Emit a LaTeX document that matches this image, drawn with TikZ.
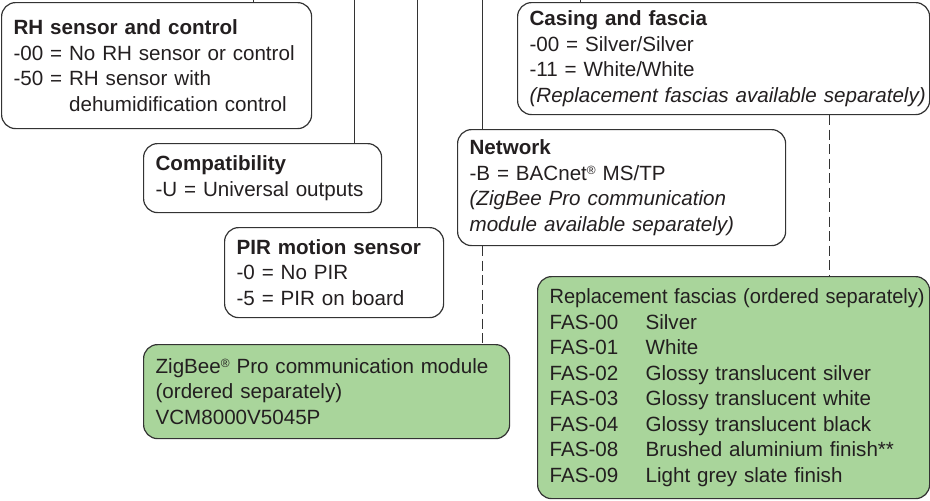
\documentclass[tikz,border=0pt]{standalone}
\usepackage{fontspec}
\setmainfont{Liberation Sans}
\usepackage[dvipsnames]{xcolor}
\definecolor{boxline}{HTML}{333333}
\definecolor{inktext}{HTML}{231F20}
\definecolor{ordergreen}{RGB}{169,213,155}
\hyphenpenalty=10000
\newcommand{\regmark}{\raisebox{0.3em}{\scalebox{0.58}{®}}}

\begin{document}
\begin{tikzpicture}[x=0.5pt,y=-0.5pt,font=\fontsize{10.3}{12.75}\selectfont,
    info node/.style={draw=boxline,line width=0.6pt,rounded corners=7pt,anchor=north west,align=left,inner xsep=6pt,inner ysep=2pt,text=inktext},
    order node/.style={info node,fill=ordergreen},
    link/.style={draw=boxline,line width=0.5pt},
    loose link/.style={link,dash pattern=on 5pt off 2.25pt}]
            \useasboundingbox (0,0) rectangle (930,500);

            % option boxes
            \node[info node,text width=143pt,minimum height=63pt] (rh) at (1,2)
                {\textbf{RH sensor and control}\\\mbox{-00 = No RH sensor or control}\\-50 = RH sensor with\\\phantom{-50 = }dehumidification control};
            \node[info node,text width=107pt,minimum height=34.5pt] (compat) at (143,143)
                {\textbf{Compatibility}\\-U = Universal outputs};
            \node[info node,text width=97.5pt,minimum height=45pt] (pir) at (224,227)
                {\textbf{PIR motion sensor}\\-0 = No PIR\\-5 = PIR on board};
            \node[info node,text width=152pt,minimum height=58pt] (net) at (457,129)
                {\textbf{Network}\\-B = BACnet\regmark{} MS/TP\\\textit{(ZigBee Pro communication}\\\textit{module available separately)}};
            \node[info node,text width=194pt,minimum height=56pt] (casing) at (517,2)
                {\textbf{Casing and fascia}\\-00 = Silver/Silver\\-11 = White/White\\\mbox{\textit{(Replacement fascias available separately)}}};

            % separately ordered parts
            \node[order node,text width=171pt,minimum height=47pt] (zig) at (143,344)
                {\mbox{ZigBee\regmark{} Pro communication module}\\(ordered separately)\\VCM8000V5045P};
            \node[order node,text width=184pt,minimum height=111pt] (repl) at (537,276)
                {\scalebox{0.972}[1]{Replacement fascias (ordered separately)}\\
                 \makebox[48pt][l]{FAS-00}Silver\\
                 \makebox[48pt][l]{FAS-01}White\\
                 \makebox[48pt][l]{FAS-02}Glossy translucent silver\\
                 \makebox[48pt][l]{FAS-03}Glossy translucent white\\
                 \makebox[48pt][l]{FAS-04}Glossy translucent black\\
                 \makebox[48pt][l]{FAS-08}Brushed aluminium finish**\\
                 \makebox[48pt][l]{FAS-09}Light grey slate finish};

            \coordinate (rh feed) at (253,0);
            \coordinate (compat feed) at (354,0);
            \coordinate (pir feed) at (417,0);
            \coordinate (net feed) at (482.5,0);
            \coordinate (casing feed) at (580,0);
            \coordinate (fascia drop) at (829,0);

            \path[link]
                (rh feed) edge (rh feed |- rh.north)
                (compat feed) edge (compat feed |- compat.north)
                (pir feed) edge (pir feed |- pir.north)
                (net feed) edge (net feed |- net.north)
                (casing feed) edge (casing feed |- casing.north)
                ;
            \path[loose link]
                (fascia drop |- casing.south) edge (fascia drop |- repl.north)
                (net feed |- net.south) edge (net feed |- zig.north)
                ;
        \end{tikzpicture}
\end{document}
